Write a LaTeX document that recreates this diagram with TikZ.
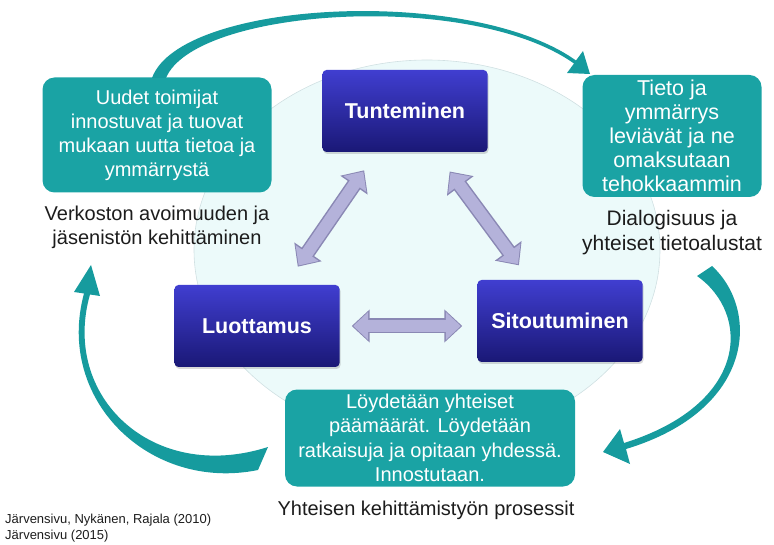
\documentclass[tikz,border=0pt]{standalone}
\usepackage{fontspec}
\setmainfont{Liberation Sans}
\usetikzlibrary{arrows.meta,positioning,shadows}

\definecolor{boxteal}{RGB}{26,163,164}
\definecolor{arrowteal}{RGB}{22,155,158}
\definecolor{navytop}{RGB}{64,62,208}
\definecolor{navybot}{RGB}{26,24,118}
\definecolor{lavfill}{RGB}{180,178,218}
\definecolor{lavedge}{RGB}{138,136,180}
\definecolor{bgfill}{RGB}{236,250,250}
\definecolor{bgedge}{RGB}{208,224,226}
\definecolor{captxt}{RGB}{28,28,28}

\begin{document}
\begin{tikzpicture}[
    x=1pt, y=-1pt,
    bluebox/.style={rectangle, rounded corners=4pt, minimum width=165pt, minimum height=82pt, top color=navytop, bottom color=navybot, text=white, font=\fontsize{21.5}{26}\selectfont\bfseries, drop shadow={shadow xshift=1pt, shadow yshift=-2pt, opacity=0.3}},
    tealbox/.style={rectangle, rounded corners=12pt, fill=boxteal, text=white, align=center, inner sep=0pt},
    caption/.style={text=captxt, align=center, inner sep=0pt, font=\fontsize{20}{24.5}\selectfont},
    biarrow/.style={line width=15pt, lavedge, {Triangle[length=18pt,width=32pt]}-{Triangle[length=18pt,width=32pt]}},
    biarrowin/.style={line width=12pt, lavfill, {Triangle[length=15pt,width=27pt]}-{Triangle[length=15pt,width=27pt]}},
    swoosh/.style={fill=arrowteal, draw=none}
]
    \useasboundingbox (0,0) rectangle (774,545);

    % pale circle behind the triangle
    \fill[bgfill, draw=bgedge, line width=0.6pt] (427,250) ellipse [x radius=233, y radius=190];

    % the three core nodes
    \node (tun) [bluebox] at (405,111) {Tunteminen};
    \node (luo) [bluebox] at (257,326) {Luottamus};
    \node (sit) [bluebox] at (560,321) {Sitoutuminen};

    % outer cycle boxes
    \node (lbox) [tealbox, minimum width=229pt, minimum height=115pt, font=\fontsize{20}{24}\selectfont] at (157,135)
        {Uudet toimijat\\innostuvat ja tuovat\\mukaan uutta tietoa ja\\ymmärrystä};
    \node (rbox) [tealbox, minimum width=179pt, minimum height=122pt, font=\fontsize{21.5}{24}\selectfont] at (672,136)
        {Tieto ja\\ymmärrys\\leviävät ja ne\\omaksutaan\\tehokkaammin};
    \node (bbox) [tealbox, minimum width=290pt, minimum height=97pt, font=\fontsize{20}{24.5}\selectfont] at (430,438)
        {Löydetään yhteiset\\päämäärät. Löydetään\\ratkaisuja ja opitaan yhdessä.\\Innostutaan.};

    \node (lcap) [caption, below=13pt of lbox] {Verkoston avoimuuden ja\\jäsenistön kehittäminen};
    \node (rcap) [caption, below=13pt of rbox, font=\fontsize{21}{24.5}\selectfont] {Dialogisuus ja\\yhteiset tietoalustat};
    \node (bcap) [caption, below=14pt of bbox, xshift=-4pt] {Yhteisen kehittämistyön prosessit};

    \node (cite) [anchor=north west, align=left, inner sep=0pt, text=captxt, font=\fontsize{13}{16}\selectfont] at (5,514)
        {Järvensivu, Nykänen, Rajala (2010)\\Järvensivu (2015)};

    % double arrows between the core nodes
    \draw [biarrow, shorten <=22pt, shorten >=22pt] (tun) -- (luo);
    \draw [biarrowin, shorten <=23.5pt, shorten >=23.5pt] (tun) -- (luo);
    \draw [biarrow, shorten <=24pt, shorten >=18pt] (tun) -- (sit);
    \draw [biarrowin, shorten <=25.5pt, shorten >=19.5pt] (tun) -- (sit);
    \draw [biarrow, shorten <=12pt, shorten >=15pt] (luo.east) -- (luo.east -| sit.west);
    \draw [biarrowin, shorten <=13.5pt, shorten >=16.5pt] (luo.east) -- (luo.east -| sit.west);

    % curved arrows of the outer cycle
    \fill[swoosh] (152,78) .. controls (180,0) and (470,-15) .. (576,60.5) -- (583,51) -- (590,74) -- (567,73) -- (574,63.5)
        .. controls (470,-10) and (195,8) .. (166,78) -- cycle;
    \fill[swoosh] (712,266) .. controls (760,310) and (755,410) .. (626,449) -- (630,464) -- (603,452) -- (620,429) -- (624,443)
        .. controls (749,404) and (751,314) .. (697,276) -- cycle;
    \fill[swoosh] (258,470) .. controls (150,492) and (55,400) .. (84,293.5) -- (74,292) -- (91,265) -- (100,296) -- (90,294.5)
        .. controls (61,396) and (152,484) .. (268,447) -- cycle;
\end{tikzpicture}
\end{document}
